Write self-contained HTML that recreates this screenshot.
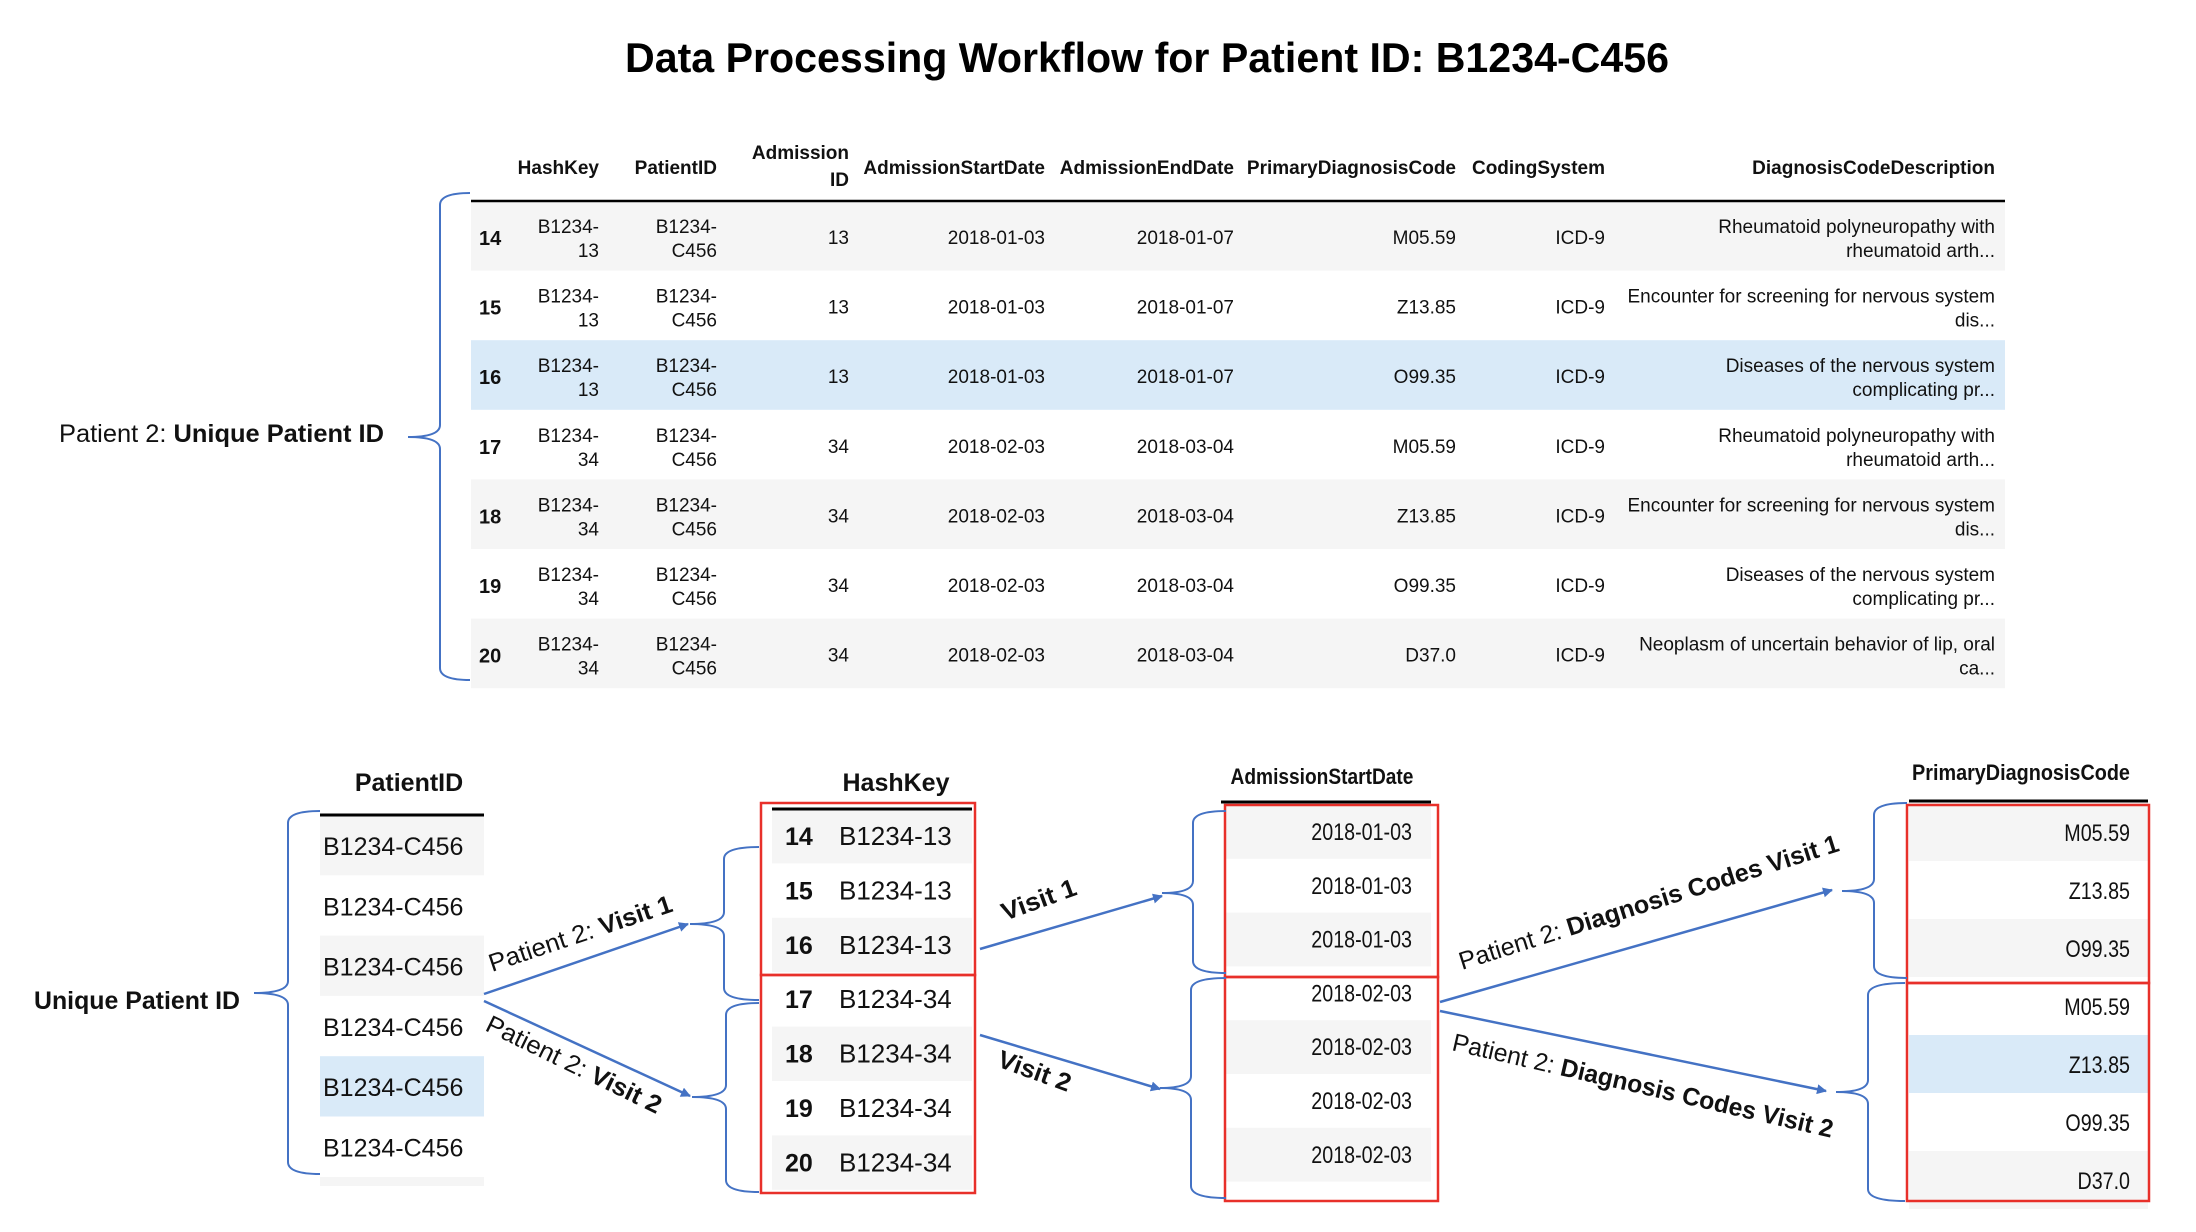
<!DOCTYPE html>
<html><head><meta charset="utf-8"><style>
html,body{margin:0;padding:0;background:#fff;}
svg{display:block;font-family:"Liberation Sans",sans-serif;}
</style></head><body>
<svg id="s" width="2196" height="1232" viewBox="0 0 2196 1232" xmlns="http://www.w3.org/2000/svg">
<defs>
<marker id="ah" markerWidth="10" markerHeight="10" refX="9" refY="5" orient="auto" markerUnits="userSpaceOnUse" viewBox="0 0 10 10"><path d="M0,0 L10,5 L0,10 z" fill="#4472c4"/></marker>
</defs>
<text x="1147" y="72" text-anchor="middle" font-size="42" font-weight="bold" textLength="1044" lengthAdjust="spacingAndGlyphs">Data Processing Workflow for Patient ID: B1234-C456</text>
<g id="top"></g>
<g id="bottom"></g>
</svg>
<script>
const NS="http://www.w3.org/2000/svg";
const svg=document.getElementById('s');
const topG=document.getElementById('top');
const botG=document.getElementById('bottom');
const BLUE="#4472c4", RED="#e8302a", GRAY="#f5f5f5", HL="#d9eaf8";

// ---- top table data ----
const headers=["HashKey","PatientID","AdmissionID","AdmissionStartDate","AdmissionEndDate","PrimaryDiagnosisCode","CodingSystem","DiagnosisCodeDescription"];
const rowIdx=["14","15","16","17","18","19","20"];
const hashKeys=["B1234-13","B1234-13","B1234-13","B1234-34","B1234-34","B1234-34","B1234-34"];
const patientIds=["B1234-C456","B1234-C456","B1234-C456","B1234-C456","B1234-C456","B1234-C456","B1234-C456"];
const admissionIds=["13","13","13","34","34","34","34"];
const startDates=["2018-01-03","2018-01-03","2018-01-03","2018-02-03","2018-02-03","2018-02-03","2018-02-03"];
const endDates=["2018-01-07","2018-01-07","2018-01-07","2018-03-04","2018-03-04","2018-03-04","2018-03-04"];
const diagCodes=["M05.59","Z13.85","O99.35","M05.59","Z13.85","O99.35","D37.0"];
const codingSystems=["ICD-9","ICD-9","ICD-9","ICD-9","ICD-9","ICD-9","ICD-9"];
const descLine1=["Rheumatoid polyneuropathy with","Encounter for screening for nervous system","Diseases of the nervous system","Rheumatoid polyneuropathy with","Encounter for screening for nervous system","Diseases of the nervous system","Neoplasm of uncertain behavior of lip, oral"];
const descLine2=["rheumatoid arth...","dis...","complicating pr...","rheumatoid arth...","dis...","complicating pr...","ca..."];
const rowShade=["g","w","b","w","g","w","g"];

function el(tag,attrs,parent,txt){const e=document.createElementNS(NS,tag);for(const k in attrs)e.setAttribute(k,attrs[k]);if(txt!==undefined)e.textContent=txt;(parent||svg).appendChild(e);return e;}
function txt(x,y,s,size,opts,parent,name){
  const e=el('text',{x:x,y:y,'font-size':size,'text-anchor':opts.anchor||'start','font-weight':opts.bold?'bold':'normal','fill':'#111'},parent,s);
  
  
  e.dataset.cond=opts.cond||1;
  return e;
}
function brace(s,e,t,b,tx,ty,name){
  const r=12;
  const d=`M${e},${t} Q${s},${t} ${s},${t+r} L${s},${ty-r} Q${s},${ty} ${tx},${ty} Q${s},${ty} ${s},${ty+r} L${s},${b-r} Q${s},${b} ${e},${b}`;
  const p=el('path',{d:d,fill:'none',stroke:BLUE,'stroke-width':2});
  
  
}
function arrow(x1,y1,x2,y2,name){
  const l=el('line',{x1:x1,y1:y1,x2:x2,y2:y2,stroke:BLUE,'stroke-width':2.5,'marker-end':'url(#ah)'});
  
  
}
function label(x,y,ang,parts,len,name){
  const t=el('text',{x:x,y:y,'font-size':25,transform:`rotate(${ang} ${x} ${y})`,textLength:len,lengthAdjust:'spacingAndGlyphs',fill:'#111'});
  
  
  parts.forEach(p=>{el('tspan',{'font-weight':p[1]?'bold':'normal'},t,p[0]);});
}

// ---- top table ----
const rowTop=201, rowH=69.6;
const colRight=[599,717,849,1045,1234,1456,1605,1995];
rowIdx.forEach((id,i)=>{
  const y=rowTop+i*rowH;
  if(rowShade[i]!=='w'){const r=el('rect',{x:471,y:y,width:1534,height:rowH,fill:rowShade[i]==='b'?HL:GRAY},topG);
    
    }
});
const hl=el('line',{x1:471,y1:201,x2:2005,y2:201,stroke:'#000','stroke-width':2.5},topG);


headers.forEach((h,j)=>{
  if(h==="AdmissionID"){
    txt(colRight[j],159,"Admission",19,{anchor:'end',bold:1},topG,'header-admission-id');
    txt(colRight[j],186,"ID",19,{anchor:'end',bold:1},topG,'header-admission-id-2');
  } else txt(colRight[j],174,h,19,{anchor:'end',bold:1},topG,'header-'+h.toLowerCase());
});
rowIdx.forEach((id,i)=>{
  const y=rowTop+i*rowH;
  txt(479,y+44,id,20,{bold:1},topG,'row-index-'+id);
  const hk=hashKeys[i].split('-');
  txt(colRight[0],y+32,hk[0]+'-',19,{anchor:'end'},topG,'hashkey-'+id);
  txt(colRight[0],y+56,hk[1],19,{anchor:'end'},topG,'hashkey-2-'+id);
  const pd=patientIds[i].split('-');
  txt(colRight[1],y+32,pd[0]+'-',19,{anchor:'end'},topG,'patient-id-'+id);
  txt(colRight[1],y+56,pd[1],19,{anchor:'end'},topG,'patient-id-2-'+id);
  txt(colRight[2],y+43,admissionIds[i],19,{anchor:'end'},topG,'admission-id-'+id);
  txt(colRight[3],y+43,startDates[i],19,{anchor:'end'},topG,'start-date-'+id);
  txt(colRight[4],y+43,endDates[i],19,{anchor:'end'},topG,'end-date-'+id);
  txt(colRight[5],y+43,diagCodes[i],19,{anchor:'end'},topG,'diagnosis-code-'+id);
  txt(colRight[6],y+43,codingSystems[i],19,{anchor:'end'},topG,'coding-system-'+id);
  txt(colRight[7],y+32,descLine1[i],19,{anchor:'end'},topG,'description-'+id);
  txt(colRight[7],y+56,descLine2[i],19,{anchor:'end'},topG,'description-2-'+id);
});
brace(440,470,193,680,408,437,'table-brace');
label(59,442,0,[["Patient 2: ",0],["Unique Patient ID",1]],325,'unique-patient-id-label');

// ---- bottom: PatientID column ----
const pidRows=["B1234-C456","B1234-C456","B1234-C456","B1234-C456","B1234-C456","B1234-C456"];
const pidShade=["g","w","g","w","b","w"];
txt(409,791,"PatientID",25,{anchor:'middle',bold:1},botG,'patientid-column-title');
pidRows.forEach((v,i)=>{
  const y=815+i*60.3;
  if(pidShade[i]!=='w'){const r=el('rect',{x:320,y:y,width:164,height:60.3,fill:pidShade[i]==='b'?HL:GRAY},botG);
    
    }
  txt(323,y+40,v,25,{},botG,'patientid-cell');
});
{const r=el('rect',{x:320,y:1177,width:164,height:9,fill:GRAY},botG);}
{const l=el('line',{x1:320,y1:815,x2:484,y2:815,stroke:'#000','stroke-width':3},botG);}
brace(288,320,811,1174,254,993,'patientid-brace');
label(34,1009,0,[["Unique Patient ID",1]],206,'unique-patient-id-title');

// ---- HashKey column ----
const hkIdx=["14","15","16","17","18","19","20"];
const hkVals=["B1234-13","B1234-13","B1234-13","B1234-34","B1234-34","B1234-34","B1234-34"];
txt(896,791,"HashKey",25,{anchor:'middle',bold:1},botG,'hashkey-column-title');
hkIdx.forEach((id,i)=>{
  const y=809+i*54.4;
  if(i%2===0){const r=el('rect',{x:772,y:y,width:200,height:54.4,fill:GRAY},botG);}
  txt(785,y+36,id,25,{bold:1},botG,'hashkey-index-'+id);
  txt(839,y+36,hkVals[i],26,{},botG,'hashkey-cell-'+id);
});
{const l=el('line',{x1:772,y1:809,x2:972,y2:809,stroke:'#000','stroke-width':3},botG);}
{const r=el('rect',{x:761,y:803,width:214,height:172,fill:'none',stroke:RED,'stroke-width':2.5},botG);}
{const r=el('rect',{x:761,y:975,width:214,height:218,fill:'none',stroke:RED,'stroke-width':2.5},botG);}
brace(724,759,847,1000,690,924,'hashkey-visit1-brace');
brace(726,759,1003,1192,692,1097,'hashkey-visit2-brace');
arrow(484,994,688,924,'arrow-patient-visit1');
arrow(484,1001,690,1096,'arrow-patient-visit2');
label(492,972,-18.5,[["Patient 2: ",0],["Visit 1",1]],192,'label-patient-visit1');
label(484,1030,26,[["Patient 2: ",0],["Visit 2",1]],192,'label-patient-visit2');

// ---- AdmissionStartDate column ----
const sdVals=["2018-01-03","2018-01-03","2018-01-03","2018-02-03","2018-02-03","2018-02-03","2018-02-03"];
txt(1322,784,"AdmissionStartDate",22,{anchor:'middle',bold:1,cond:.87},botG,'startdate-column-title');
sdVals.forEach((v,i)=>{
  const y=805+i*53.8;
  if(i%2===0){const r=el('rect',{x:1225,y:y,width:206,height:53.8,fill:GRAY},botG);}
  txt(1412,y+35,v,24,{anchor:'end',cond:.82},botG,'startdate-cell');
});
{const l=el('line',{x1:1221,y1:802,x2:1431,y2:802,stroke:'#000','stroke-width':3},botG);}
{const r=el('rect',{x:1225,y:805,width:213,height:172,fill:'none',stroke:RED,'stroke-width':2.5},botG);}
{const r=el('rect',{x:1225,y:977,width:213,height:224,fill:'none',stroke:RED,'stroke-width':2.5},botG);}
brace(1193,1226,811,973,1162,893,'startdate-visit1-brace');
brace(1191,1226,978,1198,1160,1088,'startdate-visit2-brace');
arrow(980,949,1162,896,'arrow-visit1');
arrow(980,1035,1160,1089,'arrow-visit2');
label(1005,921,-20,[["Visit 1",1]],78,'label-visit1');
label(996,1066,20,[["Visit 2",1]],76,'label-visit2');

// ---- PrimaryDiagnosisCode column ----
const pdcVals=["M05.59","Z13.85","O99.35","M05.59","Z13.85","O99.35","D37.0"];
const pdcShade=["g","w","g","w","b","w","g"];
txt(2021,780,"PrimaryDiagnosisCode",22,{anchor:'middle',bold:1,cond:.9},botG,'diagcode-column-title');
pdcVals.forEach((v,i)=>{
  const y=803+i*58;
  if(pdcShade[i]!=='w'){const r=el('rect',{x:1909,y:y,width:239,height:58,fill:pdcShade[i]==='b'?HL:GRAY},botG);}
  txt(2130,y+38,v,24,{anchor:'end',cond:.82},botG,'diagcode-cell');
});
{const l=el('line',{x1:1909,y1:801,x2:2148,y2:801,stroke:'#000','stroke-width':3},botG);}
{const r=el('rect',{x:1907,y:805,width:242,height:178,fill:'none',stroke:RED,'stroke-width':2.5},botG);}
{const r=el('rect',{x:1907,y:983,width:242,height:218,fill:'none',stroke:RED,'stroke-width':2.5},botG);}
brace(1874,1907,803,978,1842,891,'diagcode-visit1-brace');
brace(1868,1905,983,1201,1836,1092,'diagcode-visit2-brace');
arrow(1440,1002,1832,890,'arrow-diagnosis-visit1');
arrow(1440,1011,1826,1091,'arrow-diagnosis-visit2');
label(1462,970,-17.5,[["Patient 2: ",0],["Diagnosis  Codes Visit 1",1]],397,'label-diagnosis-visit1');
label(1451,1050,13,[["Patient 2: ",0],["Diagnosis Codes Visit 2",1]],390,'label-diagnosis-visit2');

// condense narrow-font text
document.querySelectorAll('text[data-cond]').forEach(t=>{
  const c=parseFloat(t.dataset.cond);
  if(c!==1){const w=t.getComputedTextLength();t.setAttribute('textLength',(w*c).toFixed(1));t.setAttribute('lengthAdjust','spacingAndGlyphs');}
});
</script>
</body></html>
